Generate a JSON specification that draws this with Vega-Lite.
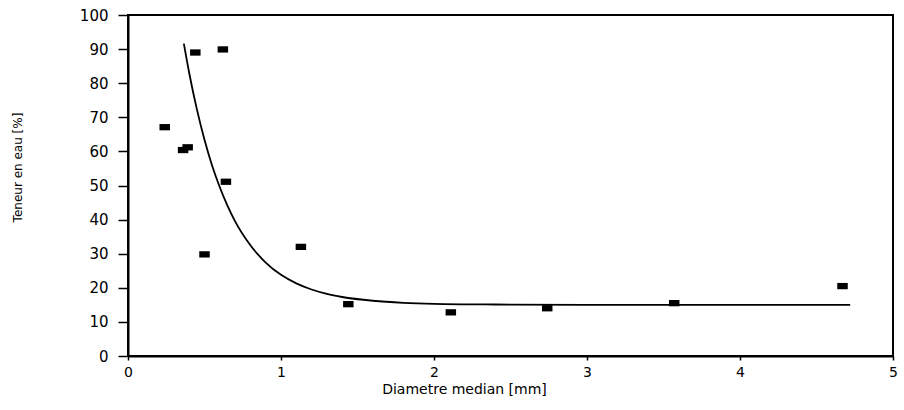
{
  "$schema": "https://vega.github.io/schema/vega-lite/v6.json",
  "width": 765,
  "height": 341,
  "autosize": {"type": "none"},
  "padding": {"left": 128, "top": 15, "right": 11, "bottom": 54},
  "background": "white",
  "config": {
    "view": {"stroke": "black", "strokeWidth": 2},
    "axis": {
      "grid": false,
      "domainColor": "black",
      "domainWidth": 2,
      "tickColor": "black",
      "tickWidth": 1.5,
      "labelColor": "black",
      "labelFont": "DejaVu Sans",
      "titleFont": "DejaVu Sans",
      "titleColor": "black",
      "titleFontWeight": "normal",
      "labelOverlap": false
    }
  },
  "datasets": {
    "points": [
      {"d": 0.24, "w": 67.1},
      {"d": 0.36, "w": 60.4},
      {"d": 0.39, "w": 61.2},
      {"d": 0.44, "w": 89.0},
      {"d": 0.62, "w": 89.9},
      {"d": 0.50, "w": 29.8},
      {"d": 0.64, "w": 51.1},
      {"d": 1.13, "w": 32.0},
      {"d": 1.44, "w": 15.2},
      {"d": 2.11, "w": 12.8},
      {"d": 2.74, "w": 14.0},
      {"d": 3.57, "w": 15.5},
      {"d": 4.67, "w": 20.5}
    ],
    "curve": [
      {"d": 0.365, "w": 91.6},
      {"d": 0.40, "w": 83.0},
      {"d": 0.45, "w": 72.4},
      {"d": 0.50, "w": 63.4},
      {"d": 0.55, "w": 55.8},
      {"d": 0.60, "w": 49.5},
      {"d": 0.65, "w": 44.1},
      {"d": 0.70, "w": 39.5},
      {"d": 0.80, "w": 32.5},
      {"d": 0.90, "w": 27.4},
      {"d": 1.00, "w": 23.8},
      {"d": 1.10, "w": 21.3},
      {"d": 1.20, "w": 19.5},
      {"d": 1.30, "w": 18.2},
      {"d": 1.40, "w": 17.3},
      {"d": 1.60, "w": 16.2},
      {"d": 1.80, "w": 15.6},
      {"d": 2.00, "w": 15.3},
      {"d": 2.40, "w": 15.1},
      {"d": 3.00, "w": 15.0},
      {"d": 4.72, "w": 15.0}
    ]
  },
  "encoding": {
    "x": {
      "field": "d", "type": "quantitative",
      "scale": {"domain": [0, 5], "nice": false},
      "axis": {
        "values": [0, 1, 2, 3, 4, 5],
        "format": "d",
        "tickSize": 4,
        "labelPadding": 5,
        "labelFontSize": 14,
        "labelFlush": false,
        "title": "Diametre median [mm]",
        "titleFontSize": 14,
        "titleX": 336,
        "titleY": 33,
        "titleAlign": "center",
        "titleBaseline": "middle",
        "titleAnchor": null
      }
    },
    "y": {
      "field": "w", "type": "quantitative",
      "scale": {"domain": [0, 100], "nice": false},
      "axis": {
        "values": [0, 10, 20, 30, 40, 50, 60, 70, 80, 90, 100],
        "format": "d",
        "tickSize": 10,
        "labelPadding": 10,
        "labelFontSize": 15,
        "labelFlush": false,
        "title": "Teneur en eau [%]",
        "titleFontSize": 12,
        "titleX": -111,
        "titleY": 152,
        "titleAngle": -90,
        "titleAlign": "center",
        "titleBaseline": "middle",
        "titleAnchor": null
      }
    }
  },
  "layer": [
    {
      "data": {"name": "curve"},
      "mark": {"type": "line", "color": "black", "strokeWidth": 1.8, "interpolate": "monotone"}
    },
    {
      "data": {"name": "points"},
      "mark": {
        "type": "point",
        "shape": "M-1,-0.6H1V0.6H-1Z",
        "filled": true,
        "color": "black",
        "opacity": 1,
        "size": 110
      }
    }
  ]
}
